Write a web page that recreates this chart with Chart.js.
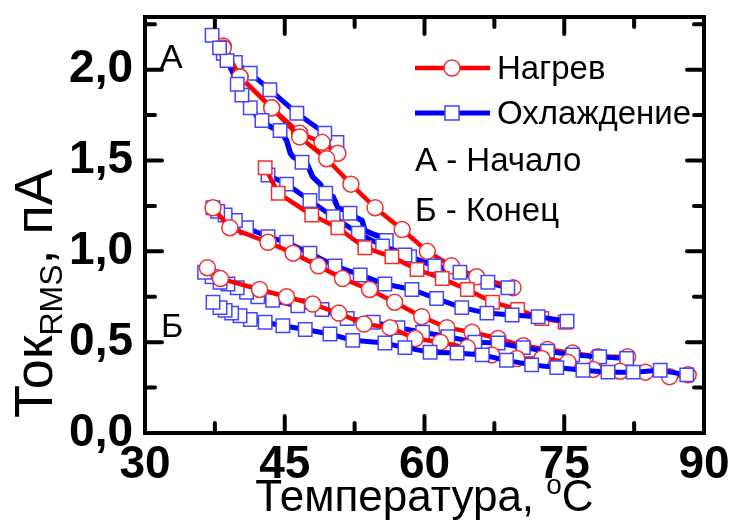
<!DOCTYPE html>
<html>
<head>
<meta charset="utf-8">
<script src="https://cdn.jsdelivr.net/npm/chart.js@4.4.0/dist/chart.umd.min.js"></script>
<style>
  html, body { margin: 0; padding: 0; background: #fff; }
  #wrap { width: 736px; height: 521px; }
</style>
</head>
<body>
<div id="wrap"><canvas id="chart" width="736" height="521"></canvas></div>
<script>
// === DATA: temperature (°C) and RMS current (pA) ===

// heating runs (red)
const heat1T = [38.4, 40.2, 43.6, 46.6, 49.0, 50.7];
const heat1I = [2.13, 1.96, 1.79, 1.65, 1.60, 1.54];

const heat2T = [38.4, 40.2, 43.6, 46.6, 49.5, 52.1, 54.7, 57.6, 60.3, 62.9, 65.6, 69.5];
const heat2I = [2.12, 1.96, 1.79, 1.63, 1.51, 1.37, 1.24, 1.12, 1.00, 0.92, 0.86, 0.80];

const heat3T = [42.9, 44.3, 47.9, 50.7, 53.6, 56.5, 59.2, 61.9, 64.6, 67.3, 70.0, 72.6, 75.1];
const heat3I = [1.46, 1.32, 1.20, 1.13, 1.02, 0.97, 0.90, 0.85, 0.79, 0.72, 0.68, 0.63, 0.61];

const heat4T = [37.3, 39.1, 43.2, 45.9, 48.6, 51.2, 54.1, 56.8, 59.7, 62.4, 65.1, 67.9, 70.6, 73.2, 75.9, 78.6, 81.8];
const heat4I = [1.24, 1.13, 1.05, 0.99, 0.92, 0.85, 0.79, 0.72, 0.64, 0.58, 0.555, 0.52, 0.48, 0.46, 0.44, 0.42, 0.42];

const heat5T = [36.7, 38.1, 42.3, 45.2, 48.0, 50.8, 53.5, 56.3, 59.0, 61.7, 64.6, 67.2, 69.9, 72.6, 75.4, 78.1, 81.0, 83.7, 86.3, 88.3];
const heat5I = [0.91, 0.85, 0.79, 0.75, 0.71, 0.66, 0.60, 0.58, 0.52, 0.50, 0.47, 0.43, 0.41, 0.41, 0.39, 0.35, 0.34, 0.335, 0.31, 0.32];

// cooling runs (blue)
const cool1T = [50.6, 49.3, 46.3, 43.4, 41.3, 39.7, 38.4, 37.2];
const cool1I = [1.60, 1.65, 1.76, 1.89, 1.98, 2.04, 2.09, 2.19];

const cool2T = [68.95, 66.8, 63.8, 61.1, 58.4, 56.8, 56.1, 55.5, 54.7, 53.6, 53.3, 52.5, 51.5, 50.7, 50.2, 49.3,
                48.8, 48.0, 47.4, 46.6, 45.9, 45.6, 45.2, 44.5, 43.7, 42.3, 41.8, 41.05, 40.2, 39.9, 38.8, 38.0];
const cool2I = [0.80, 0.83, 0.885, 0.92, 0.97, 1.005, 1.02, 1.08, 1.09, 1.115, 1.17, 1.19, 1.225, 1.24, 1.30, 1.32,
                1.37, 1.41, 1.48, 1.50, 1.52, 1.54, 1.61, 1.665, 1.68, 1.72, 1.76, 1.81, 1.87, 1.92, 2.07, 2.12];
const cool2MarkT = [68.95, 66.8, 63.8, 61.1, 58.4, 55.9, 52.0, 49.4, 46.85, 44.5, 42.55, 41.3, 40.4, 39.9, 38.8, 38.0];
const cool2MarkI = [0.80, 0.83, 0.885, 0.92, 0.97, 1.06, 1.21, 1.32, 1.49, 1.665, 1.72, 1.79, 1.86, 1.92, 2.05, 2.12];

const cool3T = [57.9, 55.5, 52.9, 50.2, 47.7, 45.2, 43.2];
const cool3I = [0.98, 1.03, 1.10, 1.19, 1.28, 1.37, 1.42];

const cool4T = [75.3, 72.2, 69.4, 66.7, 64.0, 61.3, 58.65, 55.75, 53.1, 50.4, 47.7, 45.2, 43.2, 40.9, 39.7, 38.6, 37.8, 37.3];
const cool4I = [0.615, 0.64, 0.65, 0.66, 0.69, 0.74, 0.79, 0.82, 0.87, 0.92, 0.99, 1.05, 1.08, 1.13, 1.17, 1.20, 1.22, 1.24];

const cool5T = [81.7, 78.8, 75.9, 73.2, 70.6, 67.9, 65.4, 62.5, 59.8, 57.15, 54.5, 51.7, 49.0, 46.4, 43.7, 42.1, 40.9,
                39.9, 38.9, 38.05, 37.2, 36.4];
const cool5I = [0.41, 0.42, 0.43, 0.45, 0.47, 0.495, 0.50, 0.53, 0.555, 0.58, 0.61, 0.63, 0.68, 0.70, 0.73, 0.75, 0.775,
                0.80, 0.82, 0.83, 0.86, 0.885];

const cool6T = [88.15, 85.3, 82.4, 79.7, 77.0, 74.2, 71.5, 68.8, 66.2, 63.5, 60.6, 57.9, 55.75, 52.3, 49.85, 47.2,
                44.8, 42.9, 41.3, 40.2, 39.3, 38.6, 38.05, 37.3];
const cool6I = [0.32, 0.345, 0.335, 0.335, 0.345, 0.36, 0.375, 0.40, 0.43, 0.44, 0.445, 0.47, 0.495, 0.51, 0.545, 0.57,
                0.59, 0.61, 0.625, 0.645, 0.66, 0.675, 0.69, 0.72];

// axes
const xMajor = [30, 45, 60, 75, 90];
const xMinor = [37.5, 52.5, 67.5, 82.5];
const yMajor = [0, 0.5, 1.0, 1.5, 2.0];
const yMinor = [0.25, 0.75, 1.25, 1.75, 2.25];

const FONT = '"Liberation Sans", Arial, sans-serif';
const RED = "#ff0000", RED_EDGE = "#ee3030";
const BLUE = "#0000ff", BLUE_EDGE = "#4444ff";

const pts = (t, v) => t.map((x, k) => ({ x: x, y: v[k] }));

function heating(t, v, style) {
    return {
        data: pts(t, v),
        borderColor: RED,
        borderWidth: 4.5,
        borderJoinStyle: "round",
        pointStyle: style || "circle",
        pointRadius: style === "rect" ? 9.5 : 8,
        pointBackgroundColor: "#fff",
        pointBorderColor: RED_EDGE,
        pointBorderWidth: 1.5,
        tension: 0,
        fill: false
    };
}

function cooling(t, v) {
    return {
        data: pts(t, v),
        borderColor: BLUE,
        borderWidth: 5,
        borderJoinStyle: "round",
        pointStyle: "rect",
        pointRadius: 9.5,
        pointBackgroundColor: "#fff",
        pointBorderColor: BLUE_EDGE,
        pointBorderWidth: 1.5,
        tension: 0,
        fill: false
    };
}

// wiggly cooling line is drawn bare, its squares separately
const cool2Line = Object.assign(cooling(cool2T, cool2I), { pointRadius: 0, borderWidth: 5.5 });
const cool2Marks = Object.assign(cooling(cool2MarkT, cool2MarkI), { showLine: false });

// first dataset ends up on top
const datasets = [
    cooling(cool6T, cool6I),
    heating(heat5T, heat5I),
    cooling(cool5T, cool5I),
    heating(heat4T, heat4I),
    cooling(cool4T, cool4I),
    heating(heat3T, heat3I, "rect"),
    cooling(cool3T, cool3I),
    cool2Marks,
    heating(heat2T, heat2I),
    cool2Line,
    heating(heat1T, heat1I),
    cooling(cool1T, cool1I)
];

// === FRAME, INWARD TICKS, TITLES AND LEGEND ===
const framePlugin = {
    id: "frame",
    afterDraw(chart) {
        const { ctx, chartArea: a, scales: { x, y } } = chart;
        ctx.save();
        ctx.strokeStyle = "#000";
        ctx.lineWidth = 4;
        ctx.lineCap = "round";

        const tick = (px, py, dx, dy) => {
            ctx.beginPath();
            ctx.moveTo(px, py);
            ctx.lineTo(px + dx, py + dy);
            ctx.stroke();
        };
        xMajor.forEach(v => { const p = x.getPixelForValue(v); tick(p, a.bottom, 0, -17); tick(p, a.top, 0, 17); });
        xMinor.forEach(v => { const p = x.getPixelForValue(v); tick(p, a.bottom, 0, -10); tick(p, a.top, 0, 10); });
        yMajor.forEach(v => { const p = y.getPixelForValue(v); tick(a.left, p, 17, 0); tick(a.right, p, -17, 0); });
        yMinor.forEach(v => { const p = y.getPixelForValue(v); tick(a.left, p, 10, 0); tick(a.right, p, -10, 0); });

        ctx.lineCap = "square";
        ctx.strokeRect(a.left, a.top, a.right - a.left, a.bottom - a.top);

        ctx.fillStyle = "#000";
        ctx.textBaseline = "alphabetic";
        ctx.textAlign = "left";

        // x title with superscript o
        ctx.font = "44px " + FONT;
        const xt = "Температура, ";
        const w1 = ctx.measureText(xt).width;
        ctx.font = "28px " + FONT;
        const wo = ctx.measureText("o").width;
        ctx.font = "44px " + FONT;
        const wc = ctx.measureText("C").width;
        let sx = (a.left + a.right) / 2 - (w1 + wo + wc) / 2;
        const by = 511;
        ctx.fillText(xt, sx, by);
        ctx.font = "28px " + FONT;
        ctx.fillText("o", sx + w1, by - 17);
        ctx.font = "44px " + FONT;
        ctx.fillText("C", sx + w1 + wo, by);

        // y title with subscript RMS
        ctx.save();
        ctx.translate(52, 418);
        ctx.rotate(-Math.PI / 2);
        ctx.font = "54px " + FONT;
        ctx.fillText("Ток", 0, 0);
        let off = ctx.measureText("Ток").width;
        ctx.font = "32px " + FONT;
        ctx.fillText("RMS", off, 10);
        off += ctx.measureText("RMS").width;
        ctx.font = "54px " + FONT;
        ctx.fillText(", пА", off, 0);
        ctx.restore();

        // legend
        ctx.textBaseline = "middle";
        ctx.font = "33px " + FONT;
        const lx0 = 415, lx1 = 490, mx = 452;
        ctx.lineCap = "butt";
        ctx.lineWidth = 4.5;
        ctx.strokeStyle = RED;
        tick(lx0, 68, lx1 - lx0, 0);
        ctx.beginPath();
        ctx.arc(mx, 68, 8, 0, Math.PI * 2);
        ctx.fillStyle = "#fff";
        ctx.fill();
        ctx.lineWidth = 1.5;
        ctx.strokeStyle = RED_EDGE;
        ctx.stroke();

        ctx.lineWidth = 5;
        ctx.strokeStyle = BLUE;
        tick(lx0, 113, lx1 - lx0, 0);
        ctx.fillStyle = "#fff";
        ctx.fillRect(mx - 7, 113 - 7, 14, 14);
        ctx.lineWidth = 1.5;
        ctx.strokeStyle = BLUE_EDGE;
        ctx.strokeRect(mx - 7, 113 - 7, 14, 14);

        ctx.fillStyle = "#000";
        ctx.fillText("Нагрев", 497, 70);
        ctx.fillText("Охлаждение", 497, 115);
        ctx.fillText("А - Начало", 415, 162);
        ctx.fillText("Б - Конец", 415, 212);

        // group labels
        ctx.font = "34px " + FONT;
        ctx.fillText("A", 160, 59);
        ctx.fillText("Б", 161, 328);
        ctx.restore();
    }
};

new Chart(document.getElementById("chart"), {
    type: "line",
    data: { datasets: datasets },
    options: {
        responsive: false,
        animation: false,
        devicePixelRatio: 1,
        layout: { padding: { left: 25, right: 32, top: 17, bottom: 18 } },
        plugins: {
            legend: { display: false },
            tooltip: { enabled: false }
        },
        scales: {
            x: {
                type: "linear",
                min: 30,
                max: 90,
                grid: { display: false },
                border: { display: false },
                ticks: {
                    stepSize: 15,
                    autoSkip: false,
                    includeBounds: false,
                    color: "#000",
                    padding: -3,
                    font: { family: FONT, size: 46, weight: "bold" }
                },
                afterFit: s => { s.height = 70; s.paddingLeft = 0; s.paddingRight = 0; }
            },
            y: {
                min: 0,
                max: 2.29,
                grid: { display: false },
                border: { display: false },
                ticks: {
                    stepSize: 0.5,
                    includeBounds: false,
                    color: "#000",
                    padding: 4,
                    font: { family: FONT, size: 46, weight: "bold" },
                    callback: v => v.toFixed(1).replace(".", ",")
                },
                afterFit: s => { s.width = 120; s.paddingTop = 0; s.paddingBottom = 0; }
            }
        }
    },
    plugins: [framePlugin]
});
</script>
</body>
</html>
